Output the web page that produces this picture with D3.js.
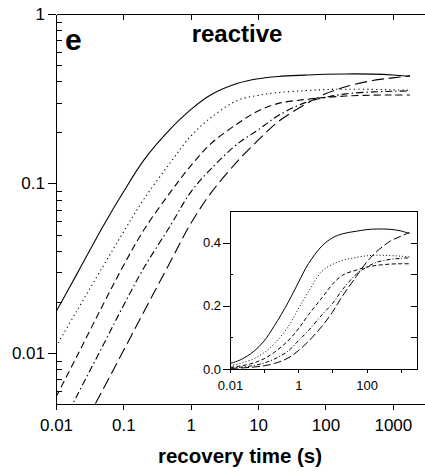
<!DOCTYPE html>
<html>
<head>
<meta charset="utf-8">
<title>reactive</title>
<script src="https://cdn.jsdelivr.net/npm/d3@7"></script>
<style>
  body { margin: 0; background: #fff; }
  text { font-family: "Liberation Sans", Arial, sans-serif; fill: #000; }
  .axis path, .axis line { stroke: #000; shape-rendering: crispEdges; }
</style>
</head>
<body>
<svg id="svg"></svg>
<script>
// recovery times (s) and the five curves
var times     = [0.01, 0.02, 0.05, 0.1, 0.2, 0.5, 1, 2, 5, 10, 20, 50, 100, 200, 500, 1000, 1800];
var solid     = [0.0175, 0.0288, 0.056, 0.089, 0.137, 0.21, 0.273, 0.334, 0.39, 0.415, 0.428, 0.436, 0.441, 0.443, 0.442, 0.437, 0.429];
var dotted    = [0.0109, 0.0175, 0.0325, 0.0516, 0.0805, 0.133, 0.19, 0.245, 0.31, 0.331, 0.344, 0.353, 0.358, 0.360, 0.359, 0.357, 0.355];
var shortDash = [0.0055, 0.0094, 0.0193, 0.0327, 0.053, 0.089, 0.127, 0.172, 0.226, 0.268, 0.297, 0.313, 0.322, 0.328, 0.332, 0.333, 0.333];
var dashDot   = [0.0032, 0.0055, 0.0111, 0.019, 0.0316, 0.0565, 0.089, 0.122, 0.172, 0.207, 0.252, 0.300, 0.322, 0.338, 0.347, 0.350, 0.352];
var longDash  = [0.0018, 0.0031, 0.0061, 0.0103, 0.0174, 0.0346, 0.058, 0.088, 0.136, 0.180, 0.232, 0.293, 0.338, 0.372, 0.405, 0.42, 0.432];

var xTicks = [0.01, 0.1, 1, 10, 100, 1000];
var xTickLabels = ["0.01", "0.1", "1", "10", "100", "1000"];
var yTicks = [0.01, 0.1, 1];
var yTickLabels = ["0.01", "0.1", "1"];
var yMinor = [0.006, 0.007, 0.008, 0.009, 0.02, 0.03, 0.04, 0.05, 0.06, 0.07, 0.08, 0.09,
              0.2, 0.3, 0.4, 0.5, 0.6, 0.7, 0.8, 0.9];
var insetXLabels = {0.01: "0.01", 1: "1", 100: "100"};
var insetYTicks = [0, 0.2, 0.4];
var insetYLabels = ["0.0", "0.2", "0.4"];
var insetYMinor = [0.1, 0.3];
var insetYRight = [0.1, 0.2, 0.3, 0.4];

var width = 425, height = 473;
var svg = d3.select("#svg").attr("width", width).attr("height", height);

var series = [
  {v: solid,     main: null,          inset: null},
  {v: dotted,    main: "1.2,3.2",     inset: "1,2.2"},
  {v: shortDash, main: "7,4",         inset: "4,2.5"},
  {v: dashDot,   main: "7,3,1.5,3",   inset: "4,2,1,2"},
  {v: longDash,  main: "12,5",        inset: "8,3"}
];

// ---- main plot
var x = d3.scaleLog().domain([0.01, 3000]).range([56, 425]);
var y = d3.scaleLog().domain([0.005, 1]).range([404, 14]);

svg.append("clipPath").attr("id", "mainClip")
  .append("rect").attr("x", 56).attr("y", 14).attr("width", 369).attr("height", 390);

var line = d3.line()
  .x(function(d, i) { return x(times[i]); })
  .y(function(d) { return y(d); })
  .curve(d3.curveCatmullRom.alpha(0.5));

var curves = svg.append("g").attr("clip-path", "url(#mainClip)");
series.forEach(function(s) {
  curves.append("path")
    .attr("d", line(s.v))
    .attr("fill", "none")
    .attr("stroke", "#000")
    .attr("stroke-width", 1.1)
    .attr("stroke-dasharray", s.main);
});

// bottom axis
svg.append("g").attr("class", "axis")
  .attr("transform", "translate(0,404)")
  .call(d3.axisBottom(x).tickValues(xTicks).tickSize(6).tickSizeOuter(0)
    .tickFormat(function(d, i) { return xTickLabels[i]; }))
  .call(function(g) {
    g.selectAll("text").style("font-size", "17px").attr("dy", "1.05em");
  });

// top axis, ticks inside
svg.append("g").attr("class", "axis")
  .attr("transform", "translate(0,14)")
  .call(d3.axisBottom(x).tickValues(xTicks.slice(1)).tickSize(6).tickSizeOuter(0).tickFormat(""));

// left axis, majors outside with labels
svg.append("g").attr("class", "axis")
  .attr("transform", "translate(56,0)")
  .call(d3.axisLeft(y).tickValues(yTicks).tickSize(8).tickSizeOuter(0)
    .tickFormat(function(d, i) { return yTickLabels[i]; }))
  .call(function(g) {
    g.selectAll("text").style("font-size", "17px").attr("x", -11);
  });

// left axis minor ticks, inside
svg.append("g").attr("class", "axis")
  .attr("transform", "translate(56,0)")
  .call(d3.axisRight(y).tickValues(yMinor).tickSize(6).tickFormat(""))
  .call(function(g) { g.select(".domain").remove(); });

svg.append("text")
  .attr("x", 65).attr("y", 50)
  .style("font-size", "30px").style("font-weight", "bold")
  .text("e");

svg.append("text")
  .attr("x", 237).attr("y", 42)
  .style("text-anchor", "middle")
  .style("font-size", "24px").style("font-weight", "bold")
  .text("reactive");

svg.append("text")
  .attr("x", 240).attr("y", 463)
  .style("text-anchor", "middle")
  .style("font-size", "20.5px").style("font-weight", "bold")
  .text("recovery time (s)");

// ---- inset
var ix = d3.scaleLog().domain([0.01, 3000]).range([230, 417]);
var iy = d3.scaleLinear().domain([0, 0.5]).range([369, 211]);

var inset = svg.append("g");
inset.append("rect")
  .attr("x", 230).attr("y", 211).attr("width", 187).attr("height", 158)
  .attr("fill", "#fff").attr("stroke", "#000").attr("stroke-width", 1)
  .attr("shape-rendering", "crispEdges");

var iline = d3.line()
  .x(function(d, i) { return ix(times[i]); })
  .y(function(d) { return iy(d); })
  .curve(d3.curveCatmullRom.alpha(0.5));

series.forEach(function(s) {
  inset.append("path")
    .attr("d", iline(s.v))
    .attr("fill", "none")
    .attr("stroke", "#000")
    .attr("stroke-width", 1)
    .attr("stroke-dasharray", s.inset);
});

inset.append("g").attr("class", "axis")
  .attr("transform", "translate(0,369)")
  .call(d3.axisBottom(ix).tickValues(xTicks).tickSize(4).tickSizeOuter(0)
    .tickFormat(function(d) { return insetXLabels[d] || ""; }))
  .call(function(g) {
    g.select(".domain").remove();
    g.selectAll("text").style("font-size", "13px").attr("dy", "1.1em");
  });

inset.append("g").attr("class", "axis")
  .attr("transform", "translate(230,0)")
  .call(d3.axisLeft(iy).tickValues(insetYTicks).tickSize(7).tickSizeOuter(0)
    .tickFormat(function(d, i) { return insetYLabels[i]; }))
  .call(function(g) {
    g.select(".domain").remove();
    g.selectAll("text").style("font-size", "13px").attr("x", -9);
  });

inset.append("g").attr("class", "axis")
  .attr("transform", "translate(230,0)")
  .call(d3.axisRight(iy).tickValues(insetYMinor).tickSize(3).tickFormat(""))
  .call(function(g) { g.select(".domain").remove(); });

inset.append("g").attr("class", "axis")
  .attr("transform", "translate(417,0)")
  .call(d3.axisLeft(iy).tickValues(insetYRight).tickSize(6).tickFormat(""))
  .call(function(g) { g.select(".domain").remove(); });
</script>
</body>
</html>
